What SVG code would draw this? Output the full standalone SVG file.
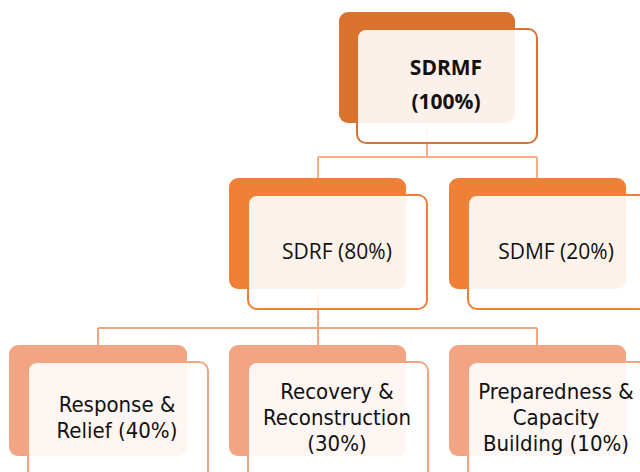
<svg xmlns="http://www.w3.org/2000/svg" width="640" height="472" viewBox="0 0 640 472">
<style>
.front{fill:#fff;fill-opacity:0.9;stroke-width:2}
.l1b{fill:#DA7230}.l1f{stroke:#DA7230}
.l2b{fill:#EE8038}.l2f{stroke:#EE8038}
.l3b{fill:#F3A583}.l3f{stroke:#F3A583}
.t12{font-family:"Open Sans","Noto Sans",sans-serif;font-size:21px;fill:#111;text-anchor:middle}
.t3{font-family:"Liberation Sans Narrow","DejaVu Sans Condensed","Open Sans",sans-serif;font-size:22px;fill:#111;text-anchor:middle}
.c1{stroke:#F2AE86;stroke-width:2;fill:none}
.c2{stroke:#F3A583;stroke-width:2;fill:none}
</style>
<g id="connectors">
<path class="c1" d="M427 128V157M318 157H537M318 157V178M537 157V178"/>
<path class="c2" d="M318 292V328M98 328H537M98 328V345M318 328V345M537 328V345"/>
</g>
<g id="sdrmf">
<rect class="l1b" x="339" y="12" width="176" height="111" rx="9"/>
<rect class="front l1f" x="357" y="29" width="180" height="114" rx="9"/>
<text class="t12" x="446" y="75" font-weight="bold">SDRMF</text>
<text class="t12" x="446" y="109" font-weight="bold">(100%)</text>
</g>
<g id="sdrf">
<rect class="l2b" x="229" y="178" width="177" height="111" rx="9"/>
<rect class="front l2f" x="248" y="195" width="179" height="114" rx="9"/>
<text class="t12" x="337" y="259">SDRF (80%)</text>
</g>
<g id="sdmf">
<rect class="l2b" x="449" y="178" width="177" height="111" rx="9"/>
<rect class="front l2f" x="468" y="195" width="179" height="114" rx="9"/>
<text class="t12" x="556" y="259">SDMF (20%)</text>
</g>
<g id="response">
<rect class="l3b" x="9" y="345" width="178" height="111" rx="9"/>
<rect class="front l3f" x="28" y="362" width="180" height="120" rx="9"/>
<text class="t3" x="117" y="412">Response &amp;</text>
<text class="t3" x="117" y="438">Relief (40%)</text>
</g>
<g id="recovery">
<rect class="l3b" x="229" y="345" width="177" height="111" rx="9"/>
<rect class="front l3f" x="248" y="362" width="180" height="120" rx="9"/>
<text class="t3" x="337" y="399">Recovery &amp;</text>
<text class="t3" x="337" y="425">Reconstruction</text>
<text class="t3" x="337" y="451">(30%)</text>
</g>
<g id="preparedness">
<rect class="l3b" x="449" y="345" width="177" height="111" rx="9"/>
<rect class="front l3f" x="468" y="362" width="180" height="120" rx="9"/>
<text class="t3" x="556" y="399">Preparedness &amp;</text>
<text class="t3" x="556" y="425">Capacity</text>
<text class="t3" x="556" y="451">Building (10%)</text>
</g>
</svg>
